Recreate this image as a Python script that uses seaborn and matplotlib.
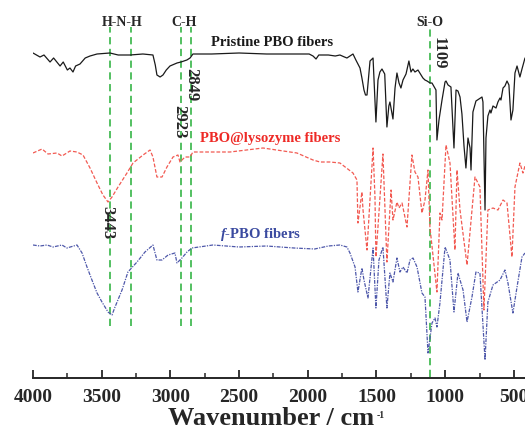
import matplotlib
matplotlib.use("Agg")
import matplotlib.pyplot as plt
import numpy as np
import pandas as pd
import seaborn as sns
from matplotlib.ticker import MultipleLocator

# --- spectra (wavenumber in cm-1, stacked transmittance in a.u.) ---
pristine_wn = [4000, 3949, 3920, 3876, 3850, 3803, 3780, 3750, 3731, 3709, 3690, 3658,
               3620, 3585, 3534, 3440, 3380, 3294, 3200, 3127, 3110, 3098, 3075, 3054,
               3030, 3003, 2952, 2923, 2880, 2857, 2836, 2700, 2500, 2300, 2100, 1990,
               1962, 1940, 1920, 1850, 1800, 1766, 1733, 1715, 1671, 1650, 1620, 1606,
               1591, 1580, 1569, 1547, 1525, 1504, 1489, 1475, 1460, 1440, 1424, 1410,
               1402, 1380, 1365, 1351, 1336, 1322, 1307, 1285, 1264, 1249, 1235, 1220,
               1198, 1162, 1147, 1132, 1110, 1096, 1067, 1060, 1045, 1023, 1001, 994,
               979, 958, 936, 921, 907, 892, 878, 863, 849, 834, 819, 812, 798,
               776, 754, 732, 725, 710, 703, 689, 674, 667, 652, 630, 616, 601, 594,
               579, 565, 550, 536, 521, 507, 492, 477, 456, 441, 419]
pristine_t = [325, 321, 323, 316, 320, 312, 316, 308, 310, 306, 312, 314,
              320, 322, 324, 325, 323, 323, 324, 323, 313, 303, 301, 303,
              308, 312, 315, 316, 318, 320, 324, 324, 325, 324, 324, 324,
              322, 319, 323, 323, 322, 323, 321, 320, 324, 318, 310, 300,
              288, 283, 283, 317, 320, 256, 298, 306, 309, 304, 251, 272,
              276, 259, 290, 305, 295, 290, 298, 304, 317, 306, 309, 306,
              308, 300, 298, 297, 295, 295, 288, 238, 258, 278, 296, 297,
              293, 291, 230, 288, 287, 281, 264, 232, 210, 240, 230, 208, 266,
              277, 279, 281, 276, 168, 240, 262, 268, 265, 272, 270, 276, 280, 278,
              290, 292, 297, 293, 258, 268, 305, 312, 301, 309, 320]

lysozyme_wn = [4000, 3934, 3891, 3825, 3789, 3731, 3680, 3636, 3585, 3534, 3491, 3454,
               3425, 3381, 3316, 3272, 3199, 3148, 3127, 3098, 3061, 3025, 2981, 2945,
               2930, 2894, 2857, 2836, 2566, 2326, 2079, 1962, 1911, 1838, 1766, 1671,
               1642, 1635, 1606, 1598, 1569, 1525, 1511, 1504, 1453, 1424, 1394, 1380,
               1351, 1336, 1314, 1278, 1242, 1220, 1198, 1169, 1147, 1125, 1111, 1060,
               1038, 1023, 994, 965, 929, 914, 892, 841, 783, 747, 718, 689, 652, 616,
               579, 550, 514, 492, 456, 434, 419]
lysozyme_t = [225, 229, 224, 225, 222, 227, 226, 223, 210, 195, 183, 176,
              181, 191, 205, 215, 223, 228, 221, 201, 201, 211, 221, 223,
              216, 221, 221, 226, 226, 230, 225, 218, 216, 216, 215, 205,
              198, 155, 186, 168, 128, 230, 181, 121, 224, 116, 188, 158,
              176, 170, 175, 151, 223, 206, 201, 165, 178, 208, 151, 86,
              165, 158, 233, 215, 128, 208, 168, 113, 201, 191, 68, 168, 170, 168,
              178, 175, 121, 191, 215, 205, 212]

fpbo_wn = [4000, 3949, 3898, 3854, 3789, 3753, 3680, 3643, 3607, 3571, 3534, 3498,
           3454, 3425, 3403, 3352, 3309, 3243, 3185, 3127, 3098, 3061, 3017, 2967,
           2952, 2916, 2879, 2843, 2690, 2500, 2300, 2100, 1950, 1850, 1766, 1715,
           1693, 1656, 1635, 1606, 1591, 1562, 1525, 1504, 1482, 1453, 1424, 1402,
           1380, 1351, 1329, 1307, 1278, 1256, 1234, 1205, 1169, 1147, 1125, 1096,
           1074, 1060, 1038, 1001, 965, 936, 907, 870, 841, 805, 776, 747, 710, 689,
           652, 601, 565, 543, 507, 477, 441, 419]
fpbo_t = [133, 132, 133, 131, 133, 130, 133, 125, 111, 98, 85, 76,
          66, 63, 71, 88, 106, 116, 126, 133, 118, 118, 123, 125,
          115, 120, 126, 130, 133, 131, 132, 130, 129, 132, 133, 131,
          125, 111, 86, 110, 98, 80, 130, 70, 118, 131, 70, 105,
          96, 120, 106, 111, 105, 118, 120, 111, 85, 81, 25, 55,
          60, 51, 75, 131, 118, 66, 105, 88, 56, 81, 106, 105, 18, 76,
          93, 98, 108, 95, 65, 91, 121, 125]

hnh_peaks = [3443, 3290]
ch_peaks = [2923, 2849]
sio_peak = 1109

pristine = pd.DataFrame({"wn": pristine_wn, "t": pristine_t})
lysozyme = pd.DataFrame({"wn": lysozyme_wn, "t": lysozyme_t})
fpbo = pd.DataFrame({"wn": fpbo_wn, "t": fpbo_t})

sns.set_style("ticks")
plt.rcParams["font.family"] = ["Liberation Serif", "DejaVu Serif"]
plt.rcParams["mathtext.fontset"] = "custom"
plt.rcParams["mathtext.rm"] = "Liberation Serif:bold"
plt.rcParams["mathtext.it"] = "Liberation Serif:italic:bold"
plt.rcParams["mathtext.bf"] = "Liberation Serif:bold"

fig = plt.figure(figsize=(5.25, 4.44), dpi=100)
ax = fig.add_axes([33 / 525, 66 / 444, 492 / 525, 378 / 444])

green = "#45bb55"
for wn in hnh_peaks + ch_peaks:
    ax.vlines(wn, 52, 351, color=green, lw=1.3, linestyles=(0, (4, 2.5)), zorder=1)
ax.vlines(sio_peak, 1, 350, color=green, lw=1.3, linestyles=(0, (4, 2.5)), zorder=1)

sns.lineplot(data=pristine, x="wn", y="t", ax=ax, color="#1a1a1a", lw=0.9,
             estimator=None, sort=False, zorder=3)
sns.lineplot(data=lysozyme, x="wn", y="t", ax=ax, color="#f25a52", lw=0.9,
             estimator=None, sort=False, zorder=2)
ax.lines[-1].set_dashes((3, 1.5))
sns.lineplot(data=fpbo, x="wn", y="t", ax=ax, color="#4e58aa", lw=0.9,
             estimator=None, sort=False, zorder=2)
ax.lines[-1].set_dashes((3, 1, 1, 1))

ax.set_xlim(4000, 419)
ax.set_ylim(0, 378)

# series labels
ax.text(2261, 336, "Pristine PBO fibers", ha="center", va="center",
        fontsize=10.5, fontweight="bold", color="#1a1a1a")
ax.text(2275, 240, "PBO@lysozyme fibers", ha="center", va="center",
        fontsize=10.5, fontweight="bold", color="#ee2a26")
ax.text(2348, 144, r"$\mathit{f}$-PBO fibers", ha="center", va="center",
        fontsize=10.5, fontweight="bold", color="#3a4aa0")

# peak groups
ax.text(3352, 356, "H-N-H", ha="center", va="center", fontsize=10, fontweight="bold")
ax.text(2901, 356, "C-H", ha="center", va="center", fontsize=10, fontweight="bold")
ax.text(1111, 356, "Si-O", ha="center", va="center", fontsize=10, fontweight="bold")

# peak positions
for txt, x, y in [("2849", 2850, 293), ("2923", 2937, 256), ("1109", 1045, 325), ("3443", 3461, 155)]:
    ax.text(x, y, txt, rotation=-90, ha="center", va="center", fontsize=12, fontweight="bold")

ax.xaxis.set_major_locator(MultipleLocator(500))
ax.xaxis.set_minor_locator(MultipleLocator(250))
ax.tick_params(axis="x", which="major", direction="in", length=6, width=1.3,
               labelsize=14, pad=8)
ax.tick_params(axis="x", which="minor", direction="in", length=3.5, width=1.1)
for lab in ax.get_xticklabels():
    lab.set_fontweight("bold")
ax.set_yticks([])
ax.set_ylabel("")
ax.set_xlabel("")
for side in ["top", "right", "left"]:
    ax.spines[side].set_visible(False)
ax.spines["bottom"].set_linewidth(1.4)
ax.patch.set_alpha(0)

# axis title with a small superscript, as in the original
fig.text(271 / 525, 19 / 444, "Wavenumber / cm", ha="center", va="baseline",
         fontsize=19, fontweight="bold")
fig.text(377 / 525, 26 / 444, "-1", ha="left", va="baseline",
         fontsize=7, fontweight="bold")

fig.savefig("out.png", dpi=100)
